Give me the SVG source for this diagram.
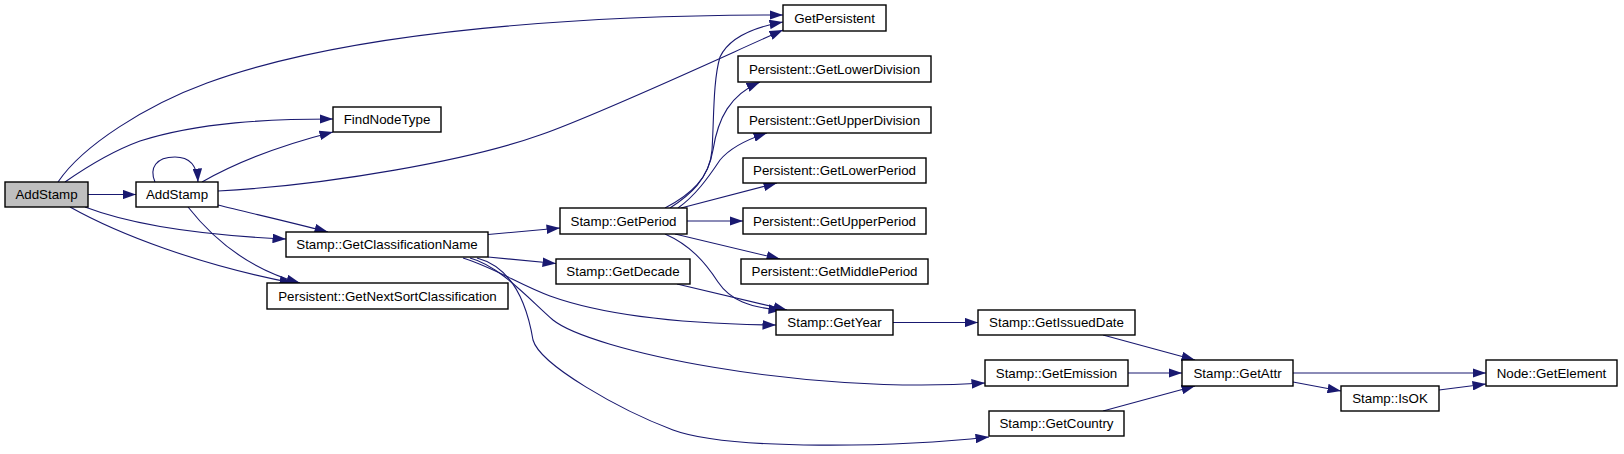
<svg xmlns="http://www.w3.org/2000/svg" width="1624" height="454" viewBox="0 0 1624 454">
<style>
.n rect{fill:#ffffff;stroke:#000000;stroke-width:1.4}
.n.root rect{fill:#bfbfbf}
.n text{font-family:"Liberation Sans",Arial,sans-serif;font-size:13.33px;fill:#000000;text-anchor:middle}
#edges path{fill:none;stroke:#191970;stroke-width:1.1;marker-end:url(#arr)}
</style>
<defs>
<marker id="arr" viewBox="0 0 13.5 9.6" refX="13.5" refY="4.8" markerWidth="13.5" markerHeight="9.6" markerUnits="userSpaceOnUse" orient="auto">
<path d="M0,0 L13.5,4.8 L0,9.6 z" fill="#191970"/>
</marker>
</defs>
<rect width="1624" height="454" fill="#ffffff"/>
<g id="edges">
<path d="M58,182 C83,145 147,105 207,83 C357,28 600,15 783,15"/>
<path d="M65,182 C85,168 110,152 140,141 C200,122 270,119 333,119"/>
<path d="M88,194.5 L136,194.5"/>
<path d="M85,207 C140,228 220,236 286,239"/>
<path d="M70,207 C120,235 200,265 293,283"/>
<path d="M155,182 C149,168 156,157 175,157 C188,157 197,163 198,182"/>
<path d="M202,182 C230,166 270,148 333,132"/>
<path d="M218,191 C330,185 470,160 540,135 C600,114 720,58 783,30"/>
<path d="M218,205 C250,213 290,222 328,232"/>
<path d="M188,207 C210,235 245,268 300,283"/>
<path d="M488,234.5 L560,228"/>
<path d="M488,257 L556,263.5"/>
<path d="M463,258 C495,268 520,285 550,296 C600,314 680,324 776,325"/>
<path d="M470,258 C500,266 530,300 553,320 C590,350 800,395 985,383"/>
<path d="M477,258 C515,268 528,310 533,340 C540,365 620,410 673,430 C730,451 900,447 989,437"/>
<path d="M665,208 C690,195 710,178 712,150 C714,120 713,80 720,57 C728,40 750,28 783,22"/>
<path d="M670,208 C690,195 708,180 713,150 C718,118 730,95 760,82"/>
<path d="M678,208 C695,196 708,178 720,160 C730,148 745,140 767,133"/>
<path d="M681,208 L777,183"/>
<path d="M687,221 L743,221"/>
<path d="M675,234 L780,259"/>
<path d="M665,234 C690,245 705,262 718,282 C730,300 750,308 782,310"/>
<path d="M677,284 L787,310"/>
<path d="M893,322.5 L978,322.5"/>
<path d="M1103,335 L1195,360"/>
<path d="M1128,373 L1182,373"/>
<path d="M1103,411 L1195,386"/>
<path d="M1293,373 L1486,373"/>
<path d="M1293,382 L1341,391"/>
<path d="M1439,390 L1486,384"/>
</g>
<g id="node-root" class="n root"><rect x="5" y="182" width="83" height="25"/><text x="46.5" y="199">AddStamp</text></g>
<g id="node-addstamp" class="n"><rect x="136" y="182" width="82" height="25"/><text x="177" y="199">AddStamp</text></g>
<g id="node-findnodetype" class="n"><rect x="333" y="107" width="108" height="25"/><text x="387" y="124">FindNodeType</text></g>
<g id="node-getclassificationname" class="n"><rect x="286" y="232" width="202" height="25"/><text x="387" y="249">Stamp::GetClassificationName</text></g>
<g id="node-getnextsort" class="n"><rect x="267" y="283" width="241" height="26"/><text x="387.5" y="300.5">Persistent::GetNextSortClassification</text></g>
<g id="node-getpersistent" class="n"><rect x="783" y="5" width="103" height="26"/><text x="834.5" y="22.5">GetPersistent</text></g>
<g id="node-getlowerdivision" class="n"><rect x="738" y="56" width="193" height="26"/><text x="834.5" y="73.5">Persistent::GetLowerDivision</text></g>
<g id="node-getupperdivision" class="n"><rect x="738" y="107" width="193" height="26"/><text x="834.5" y="124.5">Persistent::GetUpperDivision</text></g>
<g id="node-getlowerperiod" class="n"><rect x="743" y="158" width="183" height="25"/><text x="834.5" y="175">Persistent::GetLowerPeriod</text></g>
<g id="node-getupperperiod" class="n"><rect x="743" y="208" width="183" height="26"/><text x="834.5" y="225.5">Persistent::GetUpperPeriod</text></g>
<g id="node-getmiddleperiod" class="n"><rect x="741" y="259" width="187" height="25"/><text x="834.5" y="276">Persistent::GetMiddlePeriod</text></g>
<g id="node-getperiod" class="n"><rect x="560" y="208" width="127" height="26"/><text x="623.5" y="225.5">Stamp::GetPeriod</text></g>
<g id="node-getdecade" class="n"><rect x="556" y="259" width="134" height="25"/><text x="623" y="276">Stamp::GetDecade</text></g>
<g id="node-getyear" class="n"><rect x="776" y="310" width="117" height="25"/><text x="834.5" y="327">Stamp::GetYear</text></g>
<g id="node-getissueddate" class="n"><rect x="978" y="310" width="157" height="25"/><text x="1056.5" y="327">Stamp::GetIssuedDate</text></g>
<g id="node-getemission" class="n"><rect x="985" y="360" width="143" height="26"/><text x="1056.5" y="377.5">Stamp::GetEmission</text></g>
<g id="node-getcountry" class="n"><rect x="989" y="411" width="135" height="25"/><text x="1056.5" y="428">Stamp::GetCountry</text></g>
<g id="node-getattr" class="n"><rect x="1182" y="360" width="111" height="26"/><text x="1237.5" y="377.5">Stamp::GetAttr</text></g>
<g id="node-isok" class="n"><rect x="1341" y="386" width="98" height="25"/><text x="1390" y="403">Stamp::IsOK</text></g>
<g id="node-getelement" class="n"><rect x="1486" y="360" width="131" height="26"/><text x="1551.5" y="377.5">Node::GetElement</text></g>
</svg>
